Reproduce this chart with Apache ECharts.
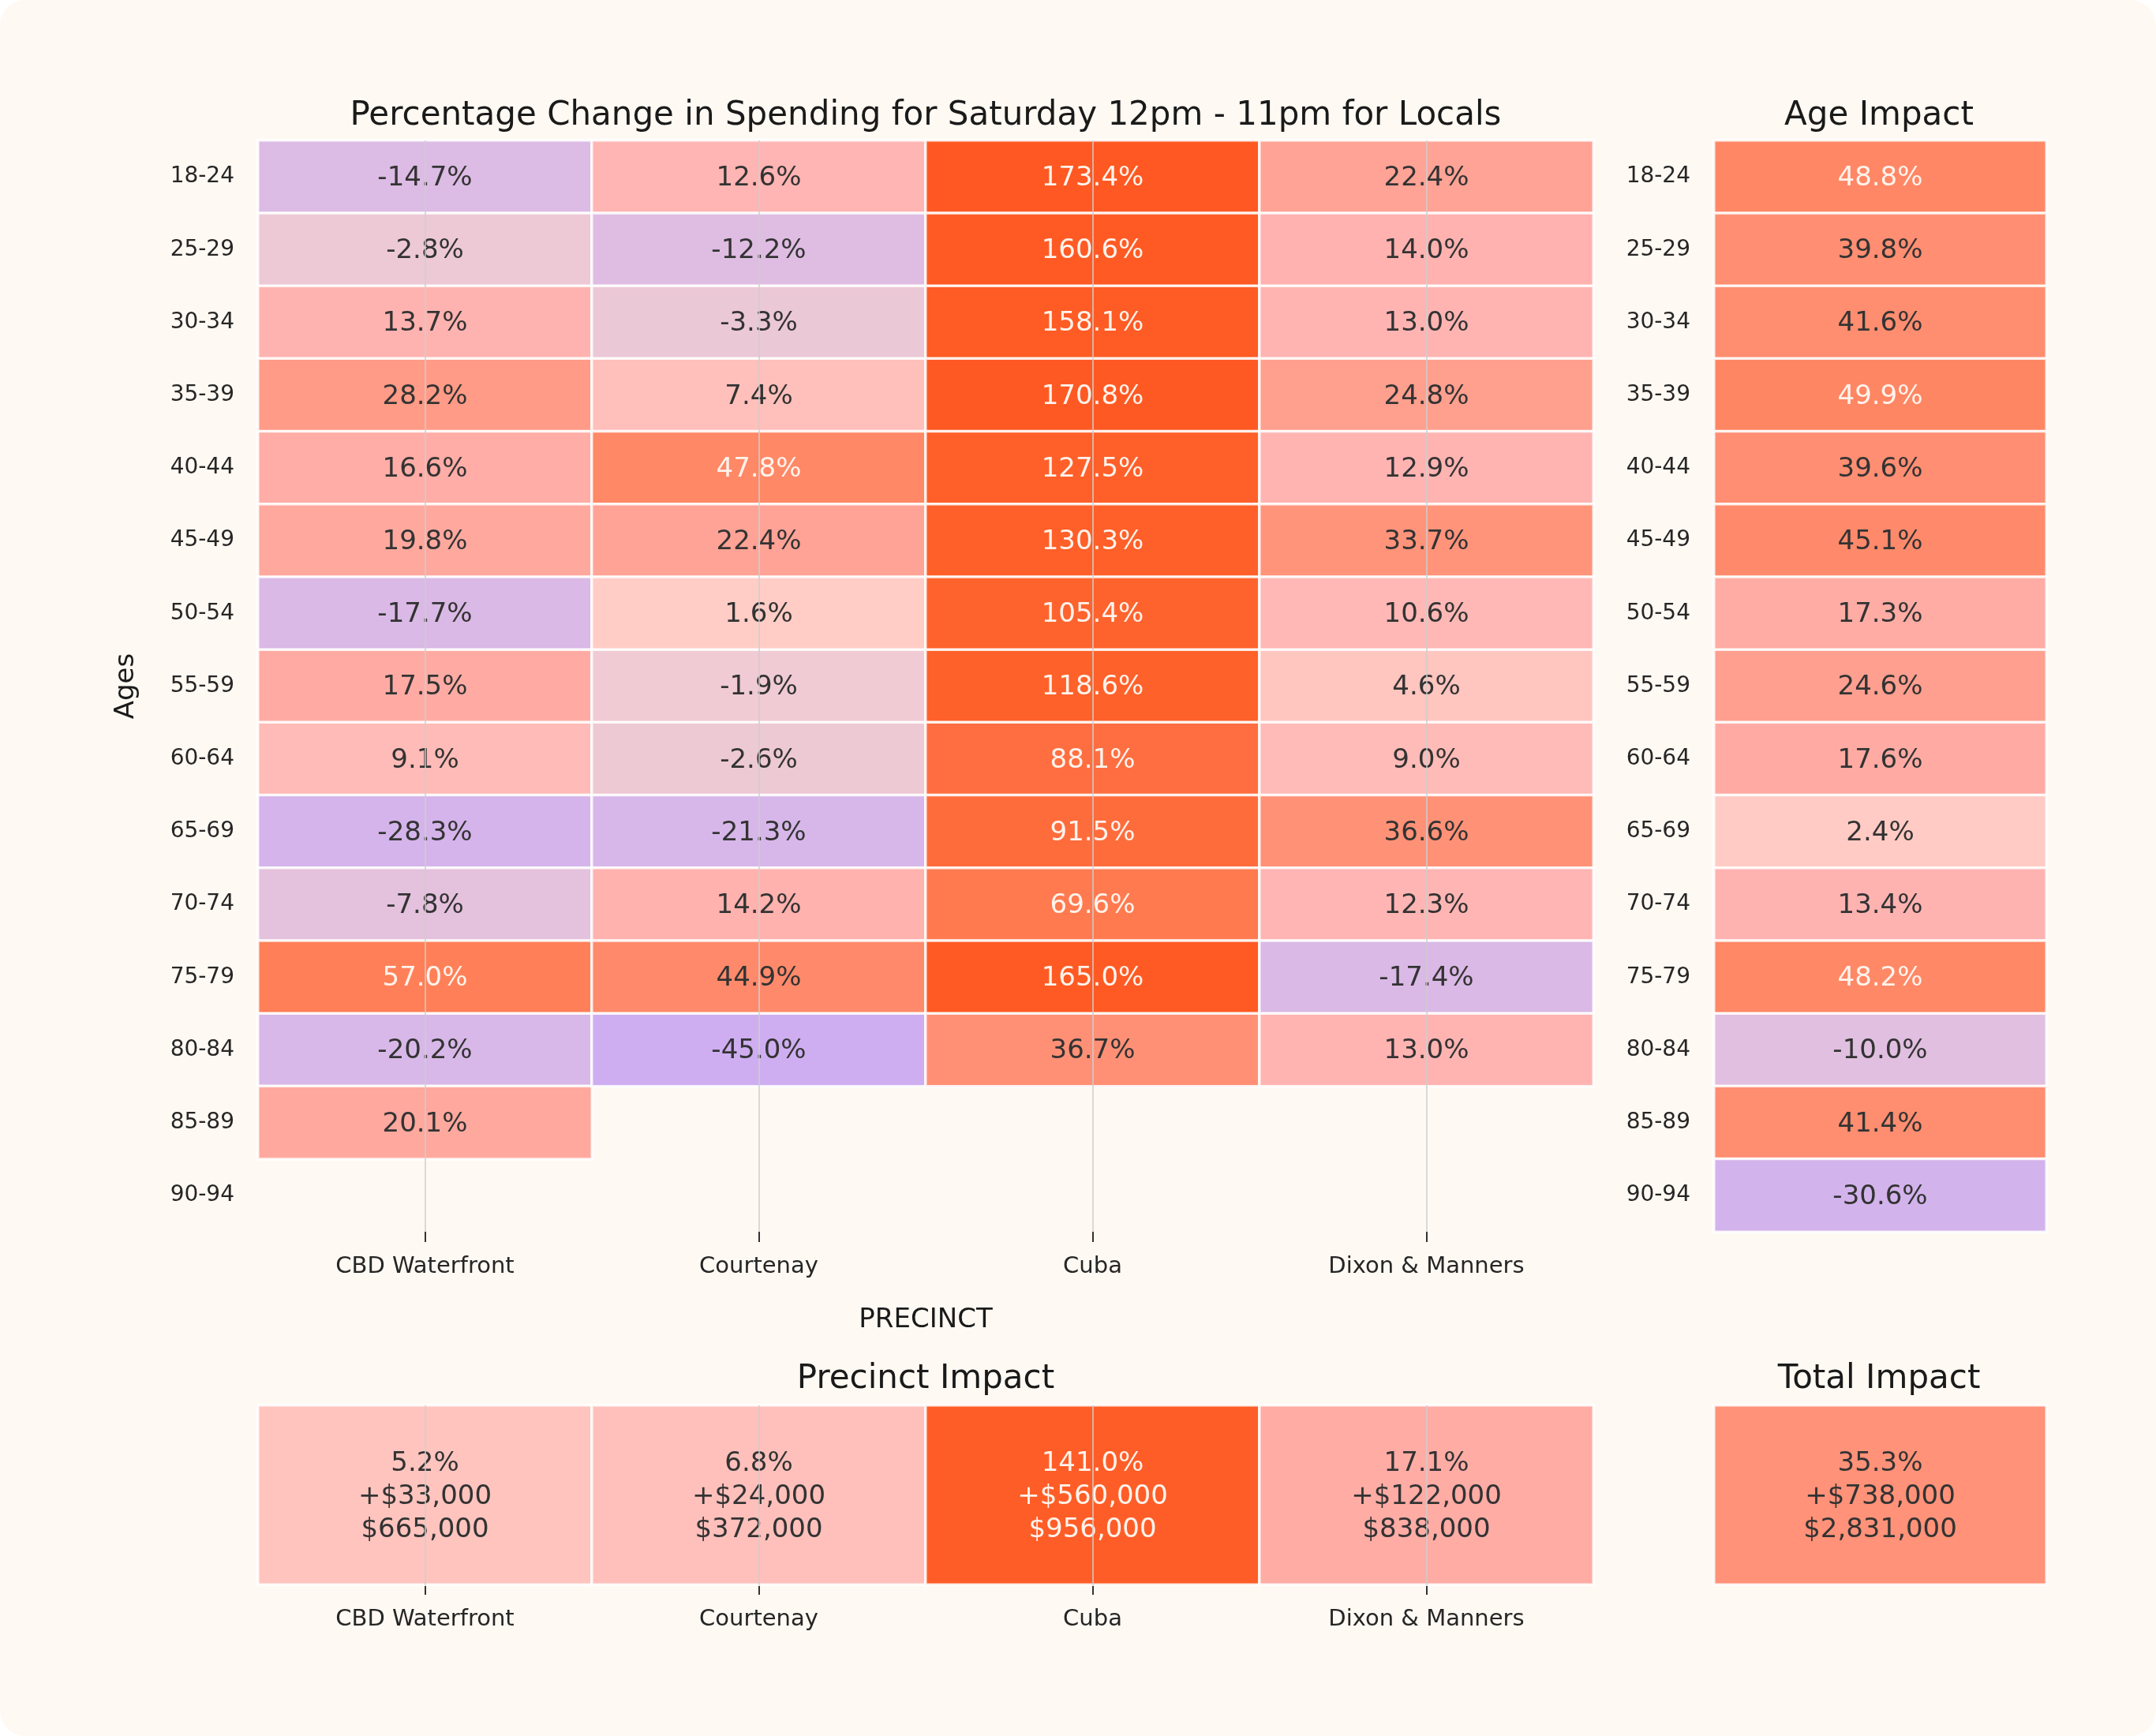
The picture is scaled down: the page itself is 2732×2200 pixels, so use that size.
<!DOCTYPE html>
<html>
<head>
<meta charset="utf-8">
<script src="https://cdn.jsdelivr.net/npm/echarts@6/dist/echarts.min.js"></script>
<style>
html,body{margin:0;padding:0;background:#ffffff;}
#main{width:2732px;height:2200px;background:#FFF9F3;border-radius:32px;overflow:hidden;}
</style>
</head>
<body>
<div id="main"></div>
<script>
// ---------------- data ----------------
const ages = ['18-24','25-29','30-34','35-39','40-44','45-49','50-54','55-59','60-64','65-69','70-74','75-79','80-84','85-89','90-94'];
const precincts = ['CBD Waterfront','Courtenay','Cuba','Dixon & Manners'];

const cbdWaterfront = [-14.7, -2.8, 13.7, 28.2, 16.6, 19.8, -17.7, 17.5, 9.1, -28.3, -7.8, 57.0, -20.2, 20.1, null];
const courtenay     = [12.6, -12.2, -3.3, 7.4, 47.8, 22.4, 1.6, -1.9, -2.6, -21.3, 14.2, 44.9, -45.0, null, null];
const cuba          = [173.4, 160.6, 158.1, 170.8, 127.5, 130.3, 105.4, 118.6, 88.1, 91.5, 69.6, 165.0, 36.7, null, null];
const dixonManners  = [22.4, 14.0, 13.0, 24.8, 12.9, 33.7, 10.6, 4.6, 9.0, 36.6, 12.3, -17.4, 13.0, null, null];

const ageImpact = [48.8, 39.8, 41.6, 49.9, 39.6, 45.1, 17.3, 24.6, 17.6, 2.4, 13.4, 48.2, -10.0, 41.4, -30.6];

const precinctPct   = [5.2, 6.8, 141.0, 17.1];
const precinctDelta = [33000, 24000, 560000, 122000];
const precinctTotal = [665000, 372000, 956000, 838000];

const totalPct = [35.3];
const totalDelta = [738000];
const totalSpend = [2831000];

// ---------------- colour scale ----------------
const colorStops = [
  [-45, '#CEAEF0'], [-30, '#D3B3EC'], [-20, '#D8B8E8'], [-14, '#DDBBE4'], [-10, '#E1BFE0'],
  [-7, '#E5C2DC'], [-3, '#ECC8D5'], [-1.5, '#F1CCD2'], [0, '#FBCFCB'], [1.5, '#FFCDC6'],
  [5, '#FFC4BE'], [9, '#FFBBB7'], [13, '#FFB4B2'], [17, '#FFACA5'], [20, '#FFA89E'],
  [24, '#FFA090'], [28, '#FF9B86'], [36, '#FF9177'], [41, '#FF8D71'], [48, '#FF8866'],
  [57, '#FF8058'], [70, '#FF7A4F'], [90, '#FF6D3E'], [105, '#FF632D'], [130, '#FF5F28'], [175, '#FF5822']
];
function hexRgb(h){return [parseInt(h.substr(1,2),16),parseInt(h.substr(3,2),16),parseInt(h.substr(5,2),16)];}
function colorFor(v){
  if (v <= colorStops[0][0]) return colorStops[0][1];
  for (let i = 1; i < colorStops.length; i++) {
    if (v <= colorStops[i][0]) {
      const [v0,c0] = colorStops[i-1], [v1,c1] = colorStops[i];
      const t = (v - v0) / (v1 - v0);
      const a = hexRgb(c0), b = hexRgb(c1);
      return 'rgb(' + a.map((x,k)=>Math.round(x + (b[k]-x)*t)).join(',') + ')';
    }
  }
  return colorStops[colorStops.length-1][1];
}
function textFor(v){ return v >= 47 ? '#FFF3EC' : '#333333'; }
function money(n){ return '$' + String(n).replace(/\B(?=(\d{3})+(?!\d))/g, ','); }

const FONT = 'DejaVu Sans';
const cols = [cbdWaterfront, courtenay, cuba, dixonManners];

function cell(x, y, v){
  return { value:[x, y, v], itemStyle:{color: colorFor(v)}, label:{color: textFor(v)} };
}

const mainData = [];
cols.forEach((arr, i) => arr.forEach((v, j) => { if (v !== null) mainData.push(cell(i, j, v)); }));
const ageData = ageImpact.map((v, j) => cell(0, j, v));
const precData = precinctPct.map((v, i) => cell(i, 0, v));
const totData = totalPct.map((v, i) => cell(i, 0, v));

const cellBorder = { borderColor:'rgba(255,255,255,0.85)', borderWidth:3.5 };
const tickAxis = {
  axisLine:{show:false},
  axisTick:{show:true, alignWithLabel:true, length:13, lineStyle:{color:'#333333', width:2}},
  axisLabel:{fontSize:29, color:'#262626', margin:30, fontFamily:FONT},
  splitLine:{show:false}
};
const ageAxis = {
  type:'category', data:ages, inverse:true,
  axisLine:{show:false}, axisTick:{show:false},
  axisLabel:{fontSize:28, color:'#262626', margin:30, fontFamily:FONT},
  splitLine:{show:false}
};
const gridLines = {
  silent:true, symbol:'none', animation:false,
  label:{show:false},
  lineStyle:{color:'rgba(205,205,205,0.75)', width:2, type:'solid'},
  emphasis:{disabled:true}
};
const titleStyle = {fontSize:42, fontWeight:'normal', color:'#1a1a1a', fontFamily:FONT};
const pctLabel = {show:true, fontSize:34, fontFamily:FONT, offset:[0,2], formatter:p => p.value[2].toFixed(1) + '%'};

const chart = echarts.init(document.getElementById('main'), null, {renderer:'canvas'});
chart.setOption({
  animation:false,
  backgroundColor:'transparent',
  textStyle:{fontFamily:FONT},
  title:[
    {text:'Percentage Change in Spending for Saturday 12pm - 11pm for Locals', left:1168, top:121, textAlign:'center', textStyle:titleStyle},
    {text:'Age Impact', left:2376, top:121, textAlign:'center', textStyle:titleStyle},
    {text:'Precinct Impact', left:1168, top:1722, textAlign:'center', textStyle:titleStyle},
    {text:'Total Impact', left:2376, top:1722, textAlign:'center', textStyle:titleStyle}
  ],
  grid:[
    {left:327, top:178, width:1692, height:1383},
    {left:2172, top:178, width:421, height:1383},
    {left:327, top:1781, width:1692, height:227},
    {left:2172, top:1781, width:421, height:227}
  ],
  xAxis:[
    Object.assign({type:'category', data:precincts, gridIndex:0, name:'PRECINCT', nameLocation:'middle', nameGap:95,
      nameTextStyle:{fontSize:34, color:'#1a1a1a', fontFamily:FONT}}, tickAxis),
    {type:'category', data:['Age Impact'], gridIndex:1, show:false},
    Object.assign({type:'category', data:precincts, gridIndex:2}, tickAxis),
    {type:'category', data:['Total'], gridIndex:3, show:false}
  ],
  yAxis:[
    Object.assign({gridIndex:0, name:'Ages', nameLocation:'middle', nameGap:150, nameRotate:90,
      nameTextStyle:{fontSize:34, color:'#1a1a1a', fontFamily:FONT}}, ageAxis),
    Object.assign({gridIndex:1}, ageAxis),
    {type:'category', data:['Impact'], gridIndex:2, show:false},
    {type:'category', data:['Total'], gridIndex:3, show:false}
  ],
  series:[
    {
      type:'heatmap', xAxisIndex:0, yAxisIndex:0, data:mainData,
      itemStyle:cellBorder, label:pctLabel,
      emphasis:{disabled:true},
      markLine:Object.assign({data:precincts.map(p => ({xAxis:p}))}, gridLines)
    },
    {
      type:'heatmap', xAxisIndex:1, yAxisIndex:1, data:ageData,
      itemStyle:cellBorder, label:pctLabel,
      emphasis:{disabled:true}
    },
    {
      type:'heatmap', xAxisIndex:2, yAxisIndex:2, data:precData,
      itemStyle:cellBorder,
      label:{show:true, fontSize:34, lineHeight:42, fontFamily:FONT, offset:[0,3],
        formatter:p => p.value[2].toFixed(1) + '%\n+' + money(precinctDelta[p.value[0]]) + '\n' + money(precinctTotal[p.value[0]])},
      emphasis:{disabled:true},
      markLine:Object.assign({data:precincts.map(p => ({xAxis:p}))}, gridLines)
    },
    {
      type:'heatmap', xAxisIndex:3, yAxisIndex:3, data:totData,
      itemStyle:cellBorder,
      label:{show:true, fontSize:34, lineHeight:42, fontFamily:FONT, offset:[0,3],
        formatter:p => p.value[2].toFixed(1) + '%\n+' + money(totalDelta[p.value[0]]) + '\n' + money(totalSpend[p.value[0]])},
      emphasis:{disabled:true}
    }
  ]
});
</script>
</body>
</html>
